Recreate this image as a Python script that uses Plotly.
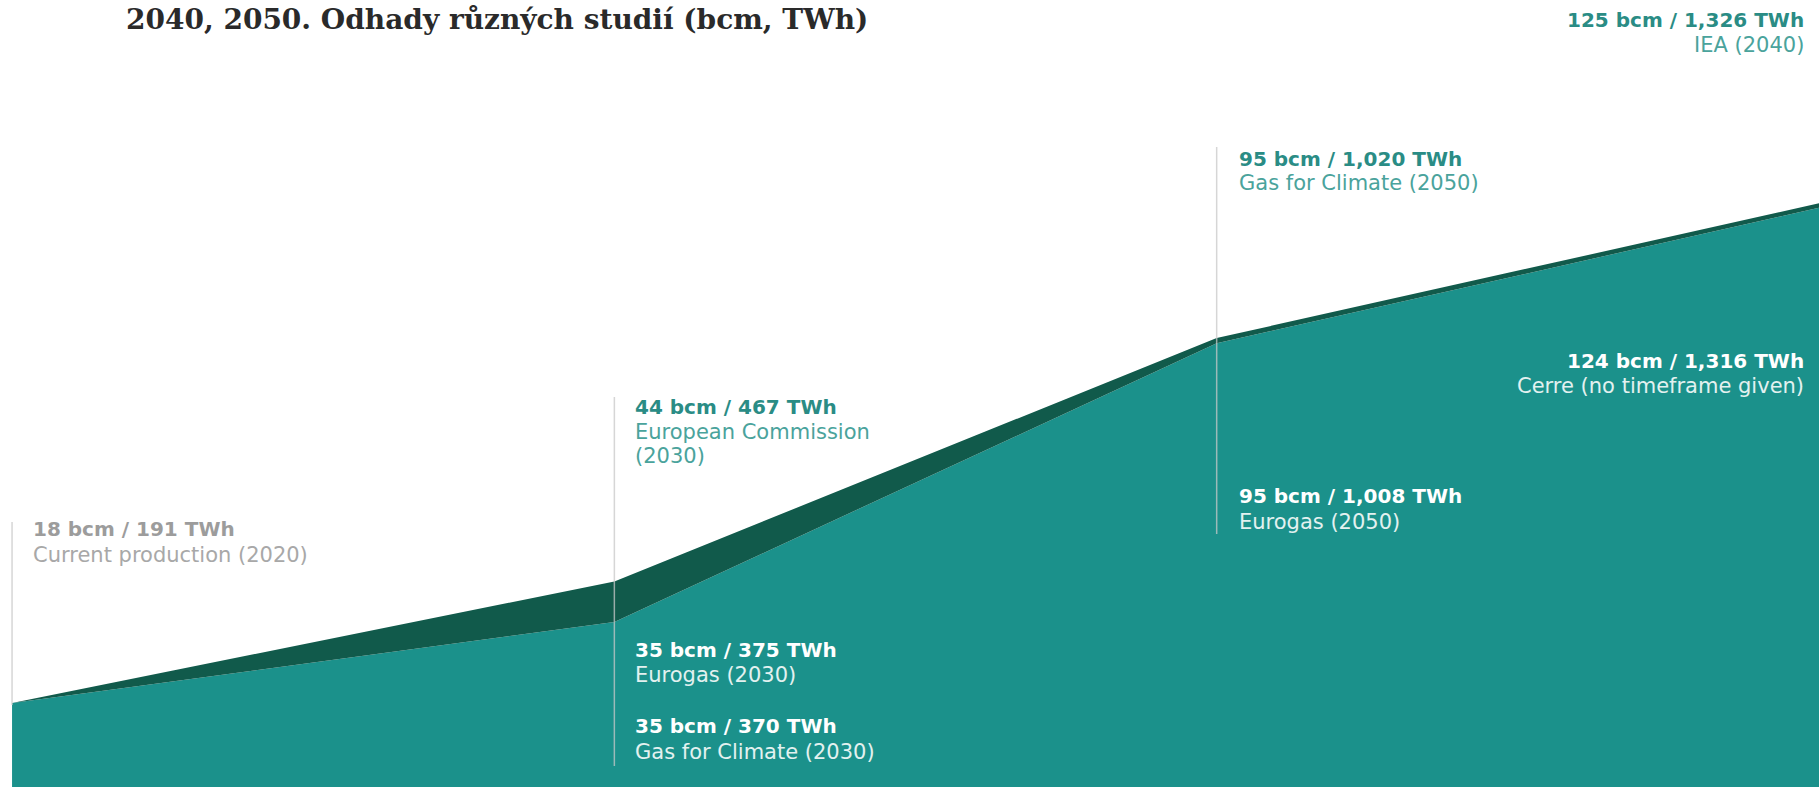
import plotly.graph_objects as go

W, H = 1819, 787

# Data (TWh) at four positions
positions = [0, 1, 2, 3]
lower_twh = [191, 375, 1008, 1316]   # Current, Eurogas 2030, Eurogas 2050, Cerre
upper_twh = [191, 467, 1020, 1326]   # Current, EC 2030, Gas for Climate 2050, IEA 2040

title_text = "2040, 2050. Odhady různých studií (bcm, TWh)"

TEAL = "#1b918b"
DARK = "#115a4b"
TXT_TEAL = "#2a8c85"
TXT_TEAL_L = "#4aa39c"
TXT_GRAY = "#9c9c9c"
TXT_GRAY_L = "#a8a8a8"
WHITE = "#ffffff"
WHITE_L = "#e3f1f0"

fig = go.Figure()
fig.add_trace(go.Scatter(x=positions, y=lower_twh, mode="lines", line=dict(width=0, color=TEAL),
                         fill="tozeroy", fillcolor=TEAL, hoverinfo="skip", showlegend=False))
fig.add_trace(go.Scatter(x=positions, y=upper_twh, mode="lines", line=dict(width=0, color=DARK),
                         fill="tonexty", fillcolor=DARK, hoverinfo="skip", showlegend=False))

def py(px):
    return 1 - px / H

# vertical guide lines (x in data, y in pixel-derived paper)
guides = [(0, 522, 705), (1, 397, 766), (2, 147, 534)]
for gx, top, bot in guides:
    fig.add_shape(type="line", xref="x", yref="paper", x0=gx, x1=gx, y0=py(bot), y1=py(top),
                  line=dict(color="rgba(200,200,200,0.75)", width=1.5), layer="above")

F = "DejaVu Sans"
labels = [
    # x, xshift, anchor, [(text, y_px, color, bold)]
    (0, 19, "left", [("18 bcm / 191 TWh", 529, TXT_GRAY, True),
                     ("Current production (2020)", 555, TXT_GRAY_L, False)]),
    (1, 19, "left", [("44 bcm / 467 TWh", 407, TXT_TEAL, True),
                     ("European Commission", 432, TXT_TEAL_L, False),
                     ("(2030)", 456, TXT_TEAL_L, False)]),
    (1, 19, "left", [("35 bcm / 375 TWh", 650, WHITE, True),
                     ("Eurogas (2030)", 675, WHITE_L, False)]),
    (1, 19, "left", [("35 bcm / 370 TWh", 726, WHITE, True),
                     ("Gas for Climate (2030)", 752, WHITE_L, False)]),
    (2, 20, "left", [("95 bcm / 1,020 TWh", 159, TXT_TEAL, True),
                     ("Gas for Climate (2050)", 183, TXT_TEAL_L, False)]),
    (2, 20, "left", [("95 bcm / 1,008 TWh", 496, WHITE, True),
                     ("Eurogas (2050)", 522, WHITE_L, False)]),
    (3, -13, "right", [("124 bcm / 1,316 TWh", 361, WHITE, True),
                       ("Cerre (no timeframe given)", 386, WHITE_L, False)]),
    (3, -13, "right", [("125 bcm / 1,326 TWh", 20, TXT_TEAL, True),
                       ("IEA (2040)", 45, TXT_TEAL_L, False)]),
]
for lx, xs, anc, lines in labels:
    for txt, ypx, col, bold in lines:
        fig.add_annotation(x=lx, xref="x", y=py(ypx), yref="paper", xshift=xs,
                           text=f"<b>{txt}</b>" if bold else txt, showarrow=False,
                           xanchor=anc, yanchor="middle",
                           font=dict(family=F, size=20 if bold else 21, color=col))

fig.add_annotation(x=124 / W, xref="paper", y=py(20), yref="paper", text=f"<b>{title_text}</b>",
                   showarrow=False, xanchor="left", yanchor="middle",
                   font=dict(family="DejaVu Serif", size=28, color="#2a2a2a"))

fig.update_layout(
    width=W, height=H, margin=dict(l=0, r=0, t=0, b=0),
    paper_bgcolor="white", plot_bgcolor="white",
    xaxis=dict(range=[-0.02, 3], visible=False, fixedrange=True),
    yaxis=dict(range=[0, 1788], visible=False, fixedrange=True),
    showlegend=False, hovermode=False,
)
fig.write_html("out.html", config={"displayModeBar": False},
               post_script="document.body.style.margin='0';document.body.style.overflow='hidden';")
